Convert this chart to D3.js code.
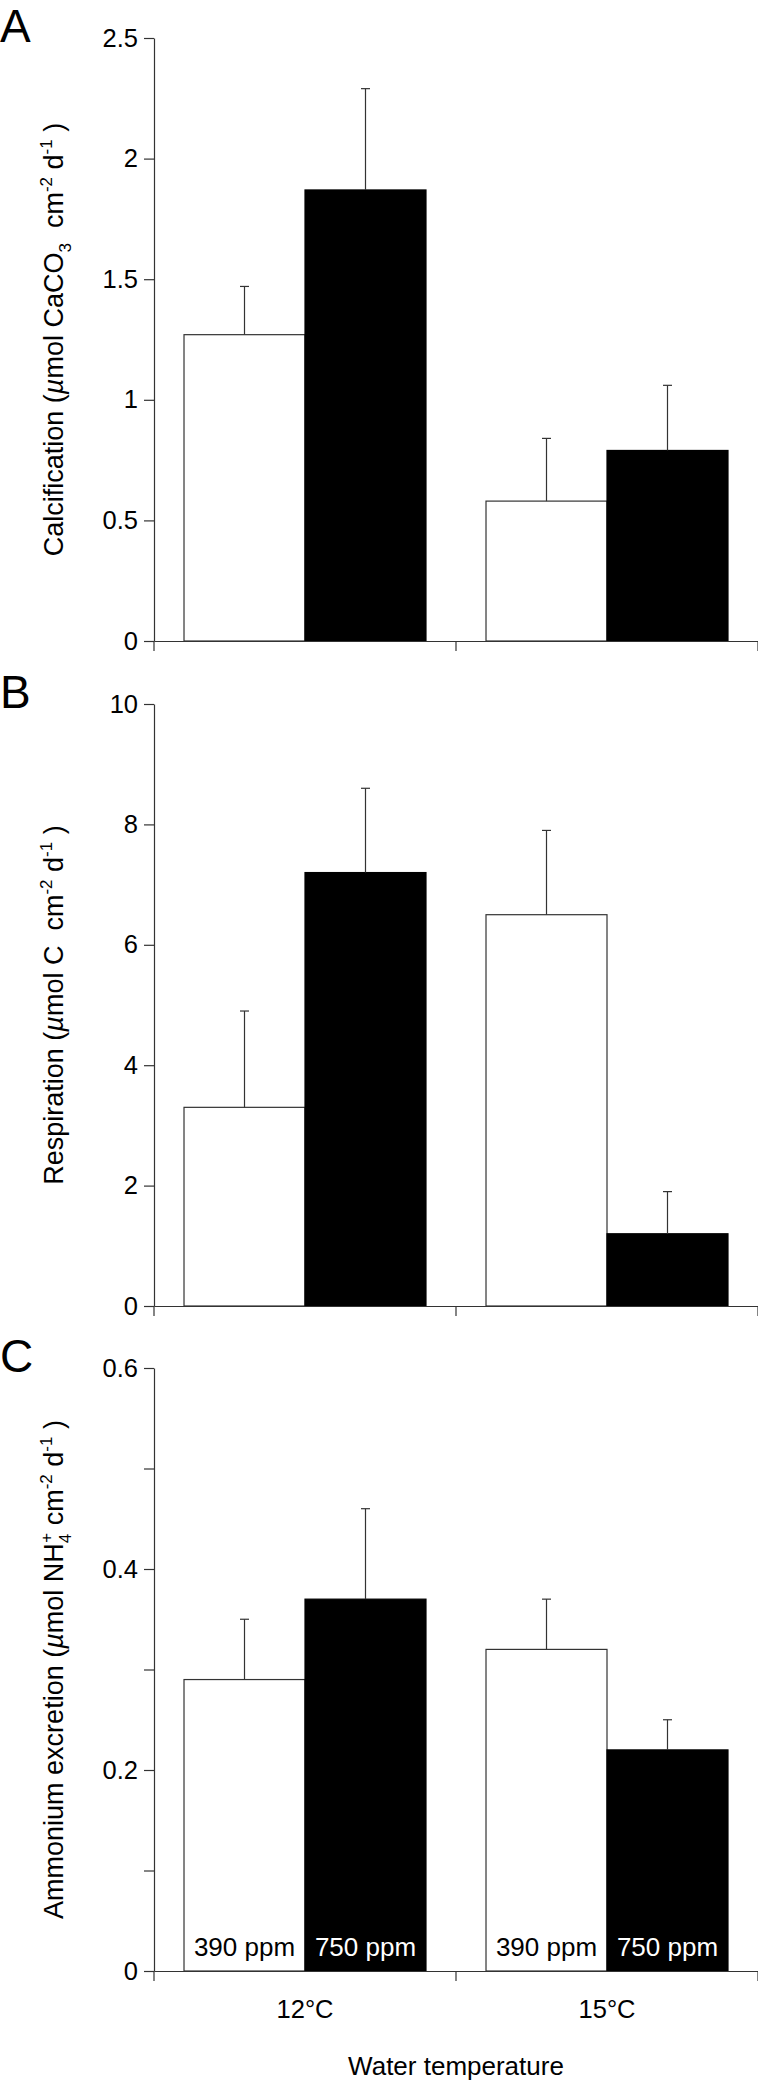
<!DOCTYPE html>
<html><head><meta charset="utf-8">
<script src="https://cdn.jsdelivr.net/npm/d3@7"></script>
<style>
body{margin:0;background:#fff}
svg{display:block}
text{font-family:"Liberation Sans",Arial,Helvetica,sans-serif;fill:#000}
</style>
</head><body><svg id="chart" width="758" height="2082"></svg>
<script>
// ---- data ----
const categories = ["12°C", "15°C"];
const treatments = ["390 ppm", "750 ppm"];

const calcification390 = [1.27, 0.58];
const calcification750 = [1.87, 0.79];
const calcificationSE390 = [0.20, 0.26];
const calcificationSE750 = [0.42, 0.27];

const respiration390 = [3.3, 6.5];
const respiration750 = [7.2, 1.2];
const respirationSE390 = [1.6, 1.4];
const respirationSE750 = [1.4, 0.7];

const ammonium390 = [0.29, 0.32];
const ammonium750 = [0.37, 0.22];
const ammoniumSE390 = [0.06, 0.05];
const ammoniumSE750 = [0.09, 0.03];

const calcTicks = [0, 0.5, 1, 1.5, 2, 2.5];
const calcTickLabels = ["0", "0.5", "1", "1.5", "2", "2.5"];
const respTicks = [0, 2, 4, 6, 8, 10];
const respTickLabels = ["0", "2", "4", "6", "8", "10"];
const ammTicks = [0, 0.1, 0.2, 0.3, 0.4, 0.5, 0.6];
const ammTickLabels = ["0", "", "0.2", "", "0.4", "", "0.6"];

const panelLetters = ["A", "B", "C"];
const xTitle = "Water temperature";

// ---- layout ----
const svg = d3.select("#chart");
const axisX = 154, rightX = 758;
const axisColor = "#333";
const NB = "\u00a0";

const x0 = d3.scaleBand().domain(categories).range([axisX, rightX]).padding(0);
const x1 = d3.scaleBand().domain(treatments).range([0, x0.bandwidth()]).paddingInner(0).paddingOuter(0.248);

const panels = [
  { letter: panelLetters[0], top: 38, bottom: 641, max: 2.5, ticks: calcTicks, labels: calcTickLabels,
    means: [calcification390, calcification750], se: [calcificationSE390, calcificationSE750],
    title: [{t:"Calcification ("},{t:"\u00b5",it:true},{t:"mol CaCO"},{t:"3",sub:true},{t:NB + NB + "cm"},{t:"-2",sup:true},{t:NB + "d"},{t:"-1",sup:true},{t:NB + ")"}] },
  { letter: panelLetters[1], top: 704, bottom: 1306, max: 10, ticks: respTicks, labels: respTickLabels,
    means: [respiration390, respiration750], se: [respirationSE390, respirationSE750],
    title: [{t:"Respiration ("},{t:"\u00b5",it:true},{t:"mol C" + NB + NB + "cm"},{t:"-2",sup:true},{t:NB + "d"},{t:"-1",sup:true},{t:NB + ")"}] },
  { letter: panelLetters[2], top: 1368, bottom: 1971, max: 0.6, ticks: ammTicks, labels: ammTickLabels,
    means: [ammonium390, ammonium750], se: [ammoniumSE390, ammoniumSE750], inBarLabels: true, xLabels: true,
    title: [{t:"Ammonium excretion ("},{t:"\u00b5",it:true},{t:"mol NH"},{t:"4",sub:true},{t:"+",sup:true,dx:-9},{t:NB + "cm"},{t:"-2",sup:true},{t:NB + "d"},{t:"-1",sup:true},{t:NB + ")"}] }
];

function richText(sel, parts, fs) {
  let shift = 0;
  parts.forEach(p => {
    const ts = sel.append("tspan").text(p.t);
    const target = p.sup ? -0.4 * fs : (p.sub ? 0.28 * fs : 0);
    ts.attr("dy", target - shift);
    shift = target;
    if (p.sup || p.sub) ts.attr("font-size", Math.round(0.62 * fs));
    if (p.it) ts.attr("font-style", "italic");
    if (p.dx) ts.attr("dx", p.dx);
  });
}

panels.forEach(p => {
  const y = d3.scaleLinear().domain([0, p.max]).range([p.bottom, p.top]);
  const g = svg.append("g");

  // bars
  categories.forEach((cat, ci) => {
    treatments.forEach((tr, ti) => {
      const v = p.means[ti][ci];
      const e = p.se[ti][ci];
      const bx = x0(cat) + x1(tr);
      const bw = x1.bandwidth();
      g.append("rect")
        .attr("x", bx).attr("y", y(v))
        .attr("width", bw).attr("height", y(0) - y(v))
        .attr("fill", ti === 0 ? "#fff" : "#000")
        .attr("stroke", ti === 0 ? axisColor : "#000")
        .attr("stroke-width", 1.2);
      const cx = bx + bw / 2;
      g.append("line").attr("x1", cx).attr("x2", cx).attr("y1", y(v)).attr("y2", y(v + e))
        .attr("stroke", axisColor).attr("stroke-width", 1.2);
      g.append("line").attr("x1", cx - 4.5).attr("x2", cx + 4.5).attr("y1", y(v + e)).attr("y2", y(v + e))
        .attr("stroke", axisColor).attr("stroke-width", 1.2);
      if (p.inBarLabels) {
        g.append("text").attr("x", cx).attr("y", y(0) - 15)
          .attr("text-anchor", "middle").attr("font-size", 26)
          .style("fill", ti === 0 ? "#000" : "#fff")
          .text(tr);
      }
    });
  });

  // y axis
  const yAxis = d3.axisLeft(y).tickValues(p.ticks)
    .tickFormat((d, i) => p.labels[i]).tickSize(10).tickPadding(6).tickSizeOuter(0);
  const ya = g.append("g").attr("transform", `translate(${axisX},0)`).call(yAxis);
  ya.selectAll("path,line").attr("stroke", axisColor).attr("stroke-width", 1.2);
  ya.selectAll("text").attr("font-size", 25.5).attr("font-family", null);

  // x axis
  const xAxis = d3.axisBottom(x0).tickSize(0).tickSizeOuter(0).tickPadding(29)
    .tickFormat(d => p.xLabels ? d : "");
  const xa = g.append("g").attr("transform", `translate(0,${y(0)})`).call(xAxis);
  xa.selectAll("path").attr("stroke", axisColor).attr("stroke-width", 1.2);
  xa.selectAll("text").attr("font-size", 25.5).attr("font-family", null);
  // boundary ticks between temperature groups
  const bounds = categories.map(c => x0(c)).concat([x0.range()[1]]);
  g.selectAll(".btick").data(bounds).enter().append("line")
    .attr("x1", d => d).attr("x2", d => d).attr("y1", y(0)).attr("y2", y(0) + 10)
    .attr("stroke", axisColor).attr("stroke-width", 1.2);

  // panel letter
  g.append("text").attr("x", 0).attr("y", p.top + 4).attr("font-size", 46).text(p.letter);

  // y title
  const t = g.append("text")
    .attr("transform", `translate(63,${(p.top + p.bottom) / 2}) rotate(-90)`)
    .attr("text-anchor", "middle").attr("font-size", 27);
  richText(t, p.title, 27);
});

// x title
svg.append("text").attr("x", (axisX + rightX) / 2).attr("y", 2075)
  .attr("text-anchor", "middle").attr("font-size", 26).text(xTitle);
</script>
</body></html>
